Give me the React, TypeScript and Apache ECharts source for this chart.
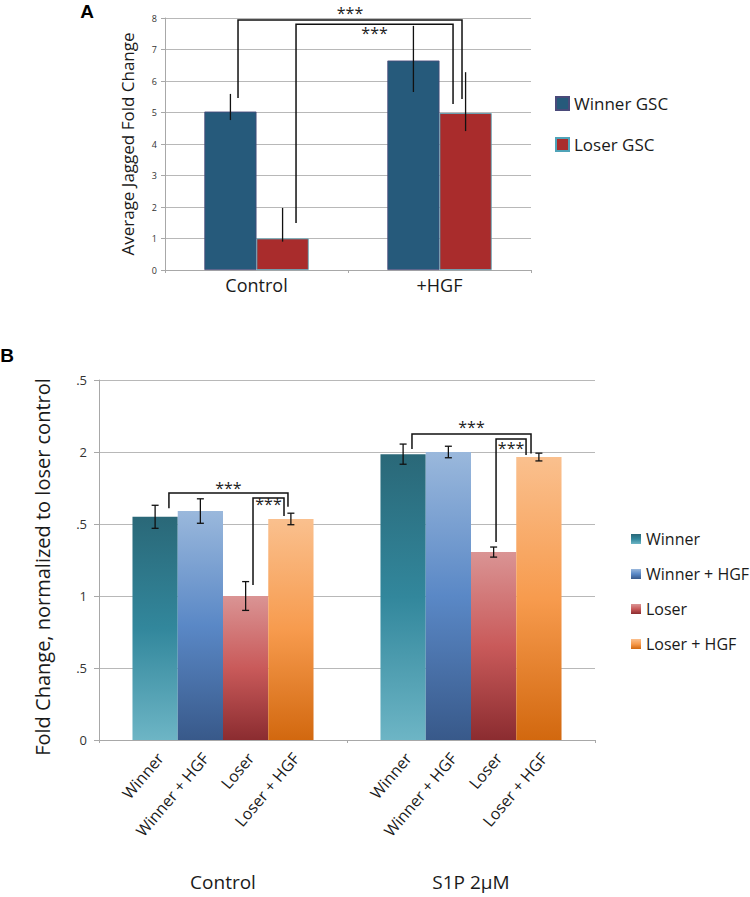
import React, { useEffect, useRef } from 'react';
import * as echarts from 'echarts';

// ---------- Panel A data ----------
const aCategories = ['Control', '+HGF'];
const aSeriesNames = ['Winner GSC', 'Loser GSC'];
const aWinner = [5.03, 6.65];
const aLoser = [1.0, 4.98];
const aWinnerLow = [4.76, 5.65];
const aWinnerHigh = [5.59, 7.75];
const aLoserLow = [0.9, 4.41];
const aLoserHigh = [1.97, 6.28];
// brackets: [xStart, yStart, xEnd, yEnd, yTop, yTextTop] (x in category units 0..2)
const aBrackets = [
  [0.399, 5.46, 1.623, 5.43, 7.94, 8.32],
  [0.716, 1.49, 1.574, 5.27, 7.8, 7.68],
];

// ---------- Panel B data ----------
const bGroups = ['Control', 'S1P 2μM'];
const bSeriesNames = ['Winner', 'Winner + HGF', 'Loser', 'Loser + HGF'];
const bWinner = [1.55, 1.985];
const bWinnerHGF = [1.59, 2.0];
const bLoser = [1.0, 1.305];
const bLoserHGF = [1.535, 1.965];
const bWinnerErr = [0.08, 0.07];
const bWinnerHGFErr = [0.085, 0.04];
const bLoserErr = [0.1, 0.035];
const bLoserHGFErr = [0.04, 0.027];
const bTickLabels = ['0', '.5', '1', '.5', '2', '.5'];
const bBrackets = [
  [0.282, 1.61, 0.762, 1.62, 1.715, 1.785],
  [0.621, 1.076, 0.746, 1.556, 1.681, 1.674],
  [1.262, 2.02, 1.742, 1.99, 2.125, 2.208],
  [1.601, 1.375, 1.722, 1.98, 2.09, 2.0625],
];

const FONT = 'Open Sans';
const TXT = '#1a1a1a';

const grad = (c0: string, c1: string, c2: string) =>
  new echarts.graphic.LinearGradient(0, 0, 0, 1, [
    { offset: 0, color: c0 },
    { offset: 0.5, color: c1 },
    { offset: 1, color: c2 },
  ]);

export default function App() {
  const ref = useRef<HTMLDivElement>(null);
  useEffect(() => {
    if (!ref.current) return;
    const chart = echarts.init(ref.current, null, { renderer: 'svg' });

    const aValues = [aWinner, aLoser];
    const aLows = [aWinnerLow, aLoserLow];
    const aHighs = [aWinnerHigh, aLoserHigh];
    const aColors = ['#265A7B', '#A92C2C'];
    const aBorders = ['#4A4A7A', '#4FA3B8'];

    const bValues = [bWinner, bWinnerHGF, bLoser, bLoserHGF];
    const bErrs = [bWinnerErr, bWinnerHGFErr, bLoserErr, bLoserHGFErr];
    const bColors = [
      grad('#2A6878', '#32879C', '#6DB5C5'),
      grad('#9AB8DC', '#5A88C6', '#38598A'),
      grad('#DA9494', '#C95A5A', '#8B2C30'),
      grad('#FAC08E', '#F79B4E', '#D2680F'),
    ];

    const aErrData: number[][] = [];
    aValues.forEach((_, s) =>
      aCategories.forEach((__, c) => aErrData.push([c, aLows[s][c], aHighs[s][c], s]))
    );
    const bErrData: number[][] = [];
    bValues.forEach((vals, s) =>
      bGroups.forEach((__, c) =>
        bErrData.push([c, vals[c] - bErrs[s][c], vals[c] + bErrs[s][c], s])
      )
    );
    const bLabelData: number[][] = [];
    bGroups.forEach((_, c) => bSeriesNames.forEach((__, s) => bLabelData.push([c, 0, s])));

    const errRender = (n: number, gap: number, cap: number, lw: number) => (params: any, api: any) => {
      const c = api.value(0);
      const lo = api.value(1);
      const hi = api.value(2);
      const s = api.value(3);
      const band = api.size([1, 0])[0];
      const bw = (band * (1 - gap)) / n;
      const cx = api.coord([c, 0])[0] + (s - (n - 1) / 2) * bw;
      const y1 = api.coord([c, lo])[1];
      const y2 = api.coord([c, hi])[1];
      const style = { stroke: '#111', lineWidth: lw };
      const children: any[] = [
        { type: 'line', shape: { x1: cx, y1, x2: cx, y2 }, style },
      ];
      if (cap > 0) {
        children.push({ type: 'line', shape: { x1: cx - cap, y1, x2: cx + cap, y2: y1 }, style });
        children.push({ type: 'line', shape: { x1: cx - cap, y1: y2, x2: cx + cap, y2 }, style });
      }
      return { type: 'group', children };
    };

    const bracketRender = (fs: number) => (params: any, api: any) => {
      const p1 = api.coord([api.value(0), api.value(1)]);
      const p2 = api.coord([api.value(2), api.value(3)]);
      const yt = api.coord([api.value(0), api.value(4)])[1];
      const ytx = api.coord([api.value(0), api.value(5)])[1];
      return {
        type: 'group',
        children: [
          {
            type: 'polyline',
            shape: { points: [[p1[0], p1[1]], [p1[0], yt], [p2[0], yt], [p2[0], p2[1]]] },
            style: { stroke: '#111', lineWidth: 1.5, fill: null },
          },
          {
            type: 'text',
            x: (p1[0] + p2[0]) / 2,
            y: ytx - 3,
            style: {
              text: '***',
              align: 'center',
              verticalAlign: 'top',
              fontSize: fs,
              fontFamily: FONT,
              fill: '#222',
            },
          },
        ],
      };
    };

    const labelRender = (params: any, api: any) => {
      const c = api.value(0);
      const s = api.value(2);
      const band = api.size([1, 0])[0];
      const bw = (band * (1 - 0.27)) / 4;
      const p = api.coord([c, 0]);
      const cx = p[0] + (s - 1.5) * bw;
      return {
        type: 'text',
        x: cx + 5,
        y: p[1] + 15,
        rotation: (50 * Math.PI) / 180,
        style: {
          text: bSeriesNames[s],
          align: 'right',
          verticalAlign: 'middle',
          fontSize: 16,
          fontFamily: FONT,
          fill: TXT,
        },
      };
    };

    const gridLine = { lineStyle: { color: '#B8B8B8', width: 1 } };
    const axisLine = { show: true, lineStyle: { color: '#A8A8A8', width: 1 } };

    const option: any = {
      animation: false,
      textStyle: { fontFamily: FONT },
      grid: [
        { left: 165, top: 18, width: 366, height: 252 },
        { left: 99, top: 380, width: 496, height: 360 },
      ],
      legend: [
        {
          data: aSeriesNames,
          orient: 'vertical',
          left: 550,
          top: 90,
          itemWidth: 13,
          itemHeight: 13,
          itemGap: 24,
          selectedMode: false,
          icon: 'rect',
          textStyle: { fontSize: 17, lineHeight: 17, color: TXT, fontFamily: FONT },
        },
        {
          data: bSeriesNames,
          orient: 'vertical',
          left: 626,
          top: 526,
          itemWidth: 10,
          itemHeight: 10,
          itemGap: 19,
          selectedMode: false,
          icon: 'rect',
          textStyle: { fontSize: 16, lineHeight: 16, color: TXT, fontFamily: FONT },
        },
      ],
      xAxis: [
        {
          type: 'category',
          gridIndex: 0,
          data: aCategories,
          axisLine,
          axisTick: { show: true, length: 3, lineStyle: { color: '#A8A8A8' } },
          axisLabel: { fontSize: 18, margin: 6, color: TXT, fontFamily: FONT },
        },
        { type: 'value', gridIndex: 0, min: 0, max: 2, show: false },
        {
          type: 'category',
          gridIndex: 1,
          data: bGroups,
          axisLine,
          axisTick: { show: true, length: 3, lineStyle: { color: '#A8A8A8' } },
          axisLabel: { fontSize: 19, margin: 132, color: TXT, fontFamily: FONT },
        },
        { type: 'value', gridIndex: 1, min: 0, max: 2, show: false },
      ],
      yAxis: [
        {
          type: 'value',
          gridIndex: 0,
          min: 0,
          max: 8,
          interval: 1,
          axisLine,
          axisTick: { show: true, length: 4, lineStyle: { color: '#A8A8A8' } },
          axisLabel: { fontSize: 9, margin: 8, color: '#333', fontFamily: FONT },
          splitLine: gridLine,
        },
        {
          type: 'value',
          gridIndex: 1,
          min: 0,
          max: 2.5,
          interval: 0.5,
          axisLine,
          axisTick: { show: true, length: 5, lineStyle: { color: '#A8A8A8' } },
          axisLabel: {
            fontSize: 13,
            margin: 12,
            color: '#333',
            fontFamily: FONT,
            formatter: (v: number) => bTickLabels[Math.round(v * 2)] ?? String(v),
          },
          splitLine: gridLine,
        },
      ],
      series: [
        ...aSeriesNames.map((name, s) => ({
          name,
          type: 'bar',
          xAxisIndex: 0,
          yAxisIndex: 0,
          data: aValues[s],
          barGap: '0%',
          barCategoryGap: '43%',
          itemStyle: { color: aColors[s], borderColor: aBorders[s], borderWidth: 0.8 },
        })),
        {
          type: 'custom',
          xAxisIndex: 0,
          yAxisIndex: 0,
          data: aErrData,
          renderItem: errRender(2, 0.43, 0, 1.3),
          z: 5,
          silent: true,
        },
        {
          type: 'custom',
          xAxisIndex: 1,
          yAxisIndex: 0,
          data: aBrackets,
          renderItem: bracketRender(16),
          z: 6,
          silent: true,
        },
        ...bSeriesNames.map((name, s) => ({
          name,
          type: 'bar',
          xAxisIndex: 2,
          yAxisIndex: 1,
          data: bValues[s],
          barGap: '0%',
          barCategoryGap: '27%',
          itemStyle: { color: bColors[s] },
        })),
        {
          type: 'custom',
          xAxisIndex: 2,
          yAxisIndex: 1,
          data: bErrData,
          renderItem: errRender(4, 0.27, 3.5, 1.3),
          z: 5,
          silent: true,
        },
        {
          type: 'custom',
          xAxisIndex: 2,
          yAxisIndex: 1,
          data: bLabelData,
          renderItem: labelRender,
          z: 5,
          silent: true,
        },
        {
          type: 'custom',
          xAxisIndex: 3,
          yAxisIndex: 1,
          data: bBrackets,
          renderItem: bracketRender(16),
          z: 6,
          silent: true,
        },
      ],
      graphic: [
        {
          type: 'text',
          x: 87,
          y: 11,
          style: { text: 'A', fontSize: 19, fontWeight: 'bold', fontFamily: 'Liberation Sans', fill: '#000', align: 'center', verticalAlign: 'middle' },
        },
        {
          type: 'text',
          x: 7,
          y: 355,
          style: { text: 'B', fontSize: 19, fontWeight: 'bold', fontFamily: 'Liberation Sans', fill: '#000', align: 'center', verticalAlign: 'middle' },
        },
        {
          type: 'text',
          x: 127,
          y: 144,
          rotation: Math.PI / 2,
          style: { text: 'Average Jagged Fold Change', fontSize: 17, fontFamily: FONT, fill: TXT, align: 'center', verticalAlign: 'middle' },
        },
        {
          type: 'text',
          x: 42,
          y: 567,
          rotation: Math.PI / 2,
          style: { text: 'Fold Change, normalized to loser control', fontSize: 20, fontFamily: FONT, fill: TXT, align: 'center', verticalAlign: 'middle' },
        },
      ],
    };

    chart.setOption(option);
    return () => chart.dispose();
  }, []);

  return <div ref={ref} style={{ width: 750, height: 897, position: 'absolute', left: 0, top: 0, background: '#fff' }} />;
}
